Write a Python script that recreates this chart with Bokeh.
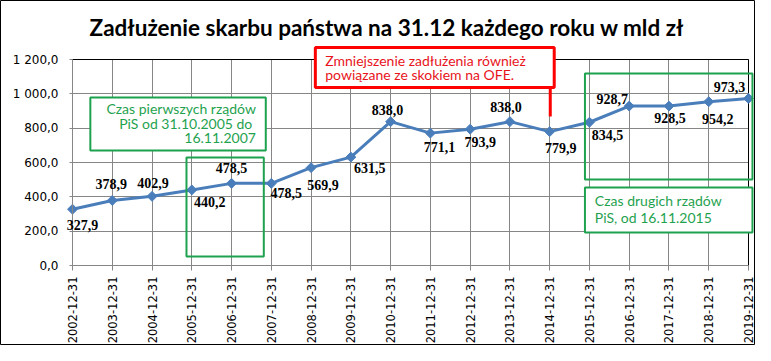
import math
from bokeh.plotting import figure
from bokeh.models import FixedTicker, BoxAnnotation, Label, LabelSet, ColumnDataSource
from bokeh.embed import file_html
from bokeh.resources import INLINE

# ---------------- data ----------------
dates = ["2002-12-31", "2003-12-31", "2004-12-31", "2005-12-31", "2006-12-31",
         "2007-12-31", "2008-12-31", "2009-12-31", "2010-12-31", "2011-12-31",
         "2012-12-31", "2013-12-31", "2014-12-31", "2015-12-31", "2016-12-31",
         "2017-12-31", "2018-12-31", "2019-12-31"]
debt = [327.9, 378.9, 402.9, 440.2, 478.5, 478.5, 569.9, 631.5, 838.0, 771.1,
        793.9, 838.0, 779.9, 834.5, 928.7, 928.5, 954.2, 973.3]
y_ticks = [0, 200, 400, 600, 800, 1000, 1200]
y_tick_labels = ["0,0", "200,0", "400,0", "600,0", "800,0", "1 000,0", "1 200,0"]

title_text = "Zadłużenie skarbu państwa na 31.12  każdego roku w mld zł"
note_pis1 = ["Czas pierwszych rządów", "PiS od 31.10.2005  do", "16.11.2007"]
note_pis2 = ["Czas drugich rządów", "PiS, od 16.11.2015"]
note_ofe = ["Zmniejszenie zadłużenia również", "powiązane ze skokiem  na OFE."]

# ---------------- layout (label placement, screen px: +x right, +y down) ----
label_offsets = [(10, 16), (-1, -16), (1, -13), (18, 12), (0, -15), (15, 10),
                 (12, 17), (19, 11), (-3, -12), (9, 14), (10, 13), (-4, -15),
                 (11, 16), (18, 13), (-17, -7), (1, 12), (9, 17), (-19, -11)]

W, H = 755, 345
X0, Y0 = 72, 265               # pixel position of the axes origin
n = len(dates)
PX_REF = 682.0 / (n - 1)      # reference px per category (for placing notes)
PX = 676.0 / (n - 1)          # drawn px per category
PY = 206.0 / max(y_ticks)     # px per unit

def dx(rx):   # reference pixel -> data x
    return (rx - X0) / PX_REF

def dy(ry):   # reference pixel -> data y
    return (Y0 - ry) / PY

GRID = "#868686"
BLUE = "#4A7EBB"
GREEN = "#1FA24F"
RED = "#FF0000"

p = figure(width=W, height=H,
           x_range=(-X0 / PX, (W - X0) / PX), y_range=(-(H - Y0) / PY, Y0 / PY),
           output_backend="svg", toolbar_location=None,
           min_border_left=0, min_border_right=0, min_border_top=0,
           min_border_bottom=0)
p.outline_line_color = "black"
p.outline_line_width = 1
p.background_fill_color = "white"
p.border_fill_color = "white"

# axes (placed at the data origin)
xs = list(range(n))
p.xaxis.fixed_location = 0
p.yaxis.fixed_location = 0
p.xaxis.ticker = FixedTicker(ticks=xs)
p.xaxis.major_label_overrides = {i: d for i, d in enumerate(dates)}
p.xaxis.major_label_orientation = math.pi / 2
p.xaxis.bounds = (0, n - 1)
p.yaxis.ticker = FixedTicker(ticks=y_ticks)
p.yaxis.major_label_overrides = {t: l for t, l in zip(y_ticks, y_tick_labels)}
p.yaxis.bounds = (0, max(y_ticks))
for ax in (p.xaxis, p.yaxis):
    ax.axis_line_color = GRID
    ax.major_tick_line_color = GRID
    ax.minor_tick_line_color = None
    ax.major_tick_in = 0
    ax.major_label_text_font = "DejaVu Sans"
    ax.major_label_text_color = "black"
p.xaxis.major_label_text_font_size = "11.5px"
p.yaxis.major_label_text_font_size = "12px"
p.xaxis.major_tick_out = 5
p.xaxis.major_label_standoff = 6
p.yaxis.major_tick_out = 3
p.yaxis.major_label_standoff = 11

# grids
p.xgrid.ticker = FixedTicker(ticks=xs)
p.ygrid.ticker = FixedTicker(ticks=y_ticks)
p.xgrid.cross_bounds = (0, max(y_ticks))
p.ygrid.cross_bounds = (0, n - 1)
p.xgrid.grid_line_color = GRID
p.ygrid.grid_line_color = GRID

# plot area border (top/right, black)
p.segment(x0=[0, n - 1], y0=[max(y_ticks), 0], x1=[n - 1, n - 1],
          y1=[max(y_ticks), max(y_ticks)], line_color="black", line_width=1)

def box(l, r, t, b, line, lw, fill):
    p.add_layout(BoxAnnotation(left=dx(l), right=dx(r), top=dy(t), bottom=dy(b),
                               fill_color="white", fill_alpha=1 if fill else 0,
                               line_color=line, line_alpha=1, line_width=lw))

box(90, 267, 97, 150, GREEN, 2, True)
box(187, 265, 157, 256, GREEN, 2, False)
box(589, 758, 73, 179, GREEN, 2, False)
box(589, 758, 187, 232, GREEN, 2, True)
box(317, 558, 47, 87, RED, 3, True)
p.segment(x0=[dx(554)], y0=[dy(88)], x1=[dx(554)], y1=[dy(116)],
          line_color=RED, line_width=3)

# series
src = ColumnDataSource(dict(
    x=xs, y=debt,
    lbl=[f"{v:.1f}".replace(".", ",") for v in debt],
    ox=[o[0] for o in label_offsets], oy=[-o[1] for o in label_offsets]))
p.line("x", "y", source=src, line_color=BLUE, line_width=3)
p.scatter("x", "y", source=src, marker="square", angle=math.pi / 4, size=7,
          fill_color=BLUE, line_color=BLUE)
p.add_layout(LabelSet(x="x", y="y", text="lbl", source=src, x_offset="ox", y_offset="oy",
                      text_align="center", text_baseline="middle",
                      text_font="Liberation Sans", text_font_style="bold",
                      text_font_size="14px", text_color="black"))

# texts
p.add_layout(Label(x=dx(392), y=dy(27), text=title_text, text_align="center",
                   text_baseline="middle", text_font="Lato", text_font_style="bold",
                   text_font_size="22.5px", text_color="black"))
for t, ry in zip(note_pis1, [108, 123, 137]):
    p.add_layout(Label(x=dx(257), y=dy(ry), text=t, text_align="right",
                       text_baseline="middle", text_font="Lato",
                       text_font_size="14px", text_color=GREEN))
for t, ry in zip(note_pis2, [200, 217]):
    p.add_layout(Label(x=dx(599), y=dy(ry), text=t, text_align="left",
                       text_baseline="middle", text_font="Lato",
                       text_font_size="14px", text_color=GREEN))
for t, ry in zip(note_ofe, [60, 74]):
    p.add_layout(Label(x=dx(327), y=dy(ry), text=t, text_align="left",
                       text_baseline="middle", text_font="Lato",
                       text_font_size="14px", text_color="#E8141B"))

open("out.html", "w").write(file_html(p, INLINE))
